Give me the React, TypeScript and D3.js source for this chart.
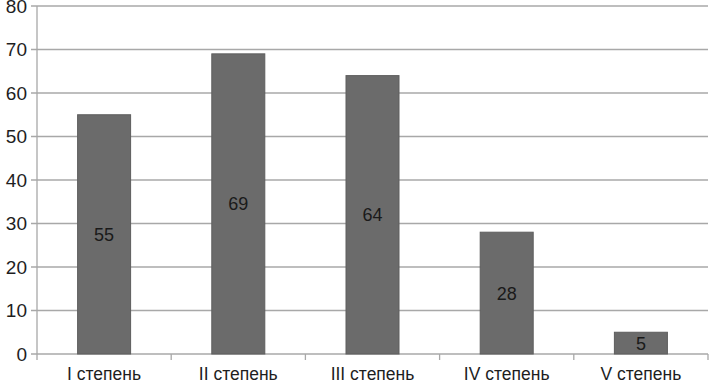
import * as React from 'react';
import * as d3 from 'd3';

const categories: string[] = ['I степень', 'II степень', 'III степень', 'IV степень', 'V степень'];
const values: number[] = [55, 69, 64, 28, 5];
const yTicks: number[] = [0, 10, 20, 30, 40, 50, 60, 70, 80];

const W = 709;
const H = 383;

export default function App() {
	const margin = { top: 6, right: 1, bottom: 29, left: 37 };

	const band = d3.scaleBand().domain(categories).range([margin.left, W - margin.right]);
	const y = d3.scaleLinear().domain([0, 80]).range([H - margin.bottom, margin.top]);

	const font = 'Arial, "Liberation Sans", sans-serif';

	return (
		<svg width={W} height={H} style={{ position: 'absolute', left: 0, top: 0, background: '#fff' }}>
			{/* gridlines */}
			{yTicks.map((t) => (
				<g key={t}>
					<line x1={margin.left - 6} x2={W - margin.right} y1={y(t)} y2={y(t)} stroke="#a8a8a8" strokeWidth={1.3} />
					<text x={27} y={y(t)} dy="0.36em" textAnchor="end" fontFamily={font} fontSize={19} fill="#1e1e1e">
						{t}
					</text>
				</g>
			))}
			{/* y axis */}
			<line x1={margin.left} x2={margin.left} y1={y(80)} y2={y(0)} stroke="#a8a8a8" strokeWidth={1.3} />
			{/* category ticks */}
			{categories.map((c) => (
				<line key={c} x1={band(c)!} x2={band(c)!} y1={y(0)} y2={y(0) + 6} stroke="#a8a8a8" strokeWidth={1.3} />
			))}
			<line x1={W - margin.right} x2={W - margin.right} y1={y(0)} y2={y(0) + 6} stroke="#a8a8a8" strokeWidth={1.3} />
			{/* bars */}
			{categories.map((c, i) => (
				<g key={c}>
					<rect
						x={band(c)! + band.bandwidth() / 2 - 26.5}
						y={y(values[i])}
						width={53}
						height={y(0) - y(values[i])}
						fill="#6b6b6b"
						stroke="#5e5e5e"
						strokeWidth={1}
					/>
					<text
						x={band(c)! + band.bandwidth() / 2}
						y={(y(values[i]) + y(0)) / 2}
						dy="0.36em"
						textAnchor="middle"
						fontFamily={font}
						fontSize={18}
						fill="#1a1a1a"
					>
						{values[i]}
					</text>
					<text
						x={band(c)! + band.bandwidth() / 2}
						y={374}
						dy="0.36em"
						textAnchor="middle"
						fontFamily={font}
						fontSize={17.5}
						fill="#1e1e1e"
					>
						{c}
					</text>
				</g>
			))}
		</svg>
	);
}
